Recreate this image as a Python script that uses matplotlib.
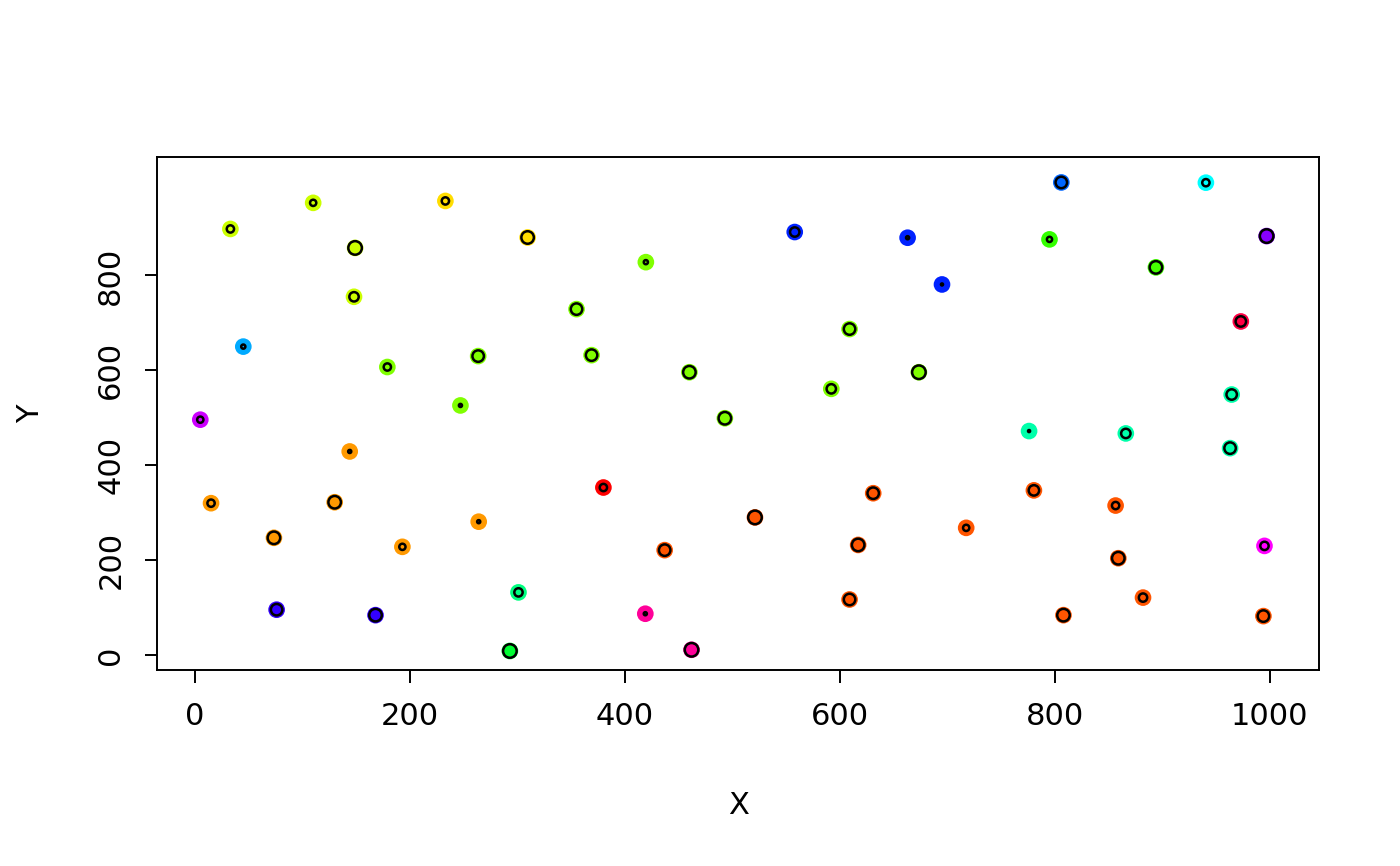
import matplotlib
matplotlib.use("Agg")
import matplotlib.pyplot as plt

# point data
x = [5, 15, 33, 45, 73.5, 76, 110, 130, 144, 148, 149, 168, 179, 193, 233,
     247, 263.5, 264, 293, 301, 309.5, 355, 369, 380, 419, 419.5, 437, 460,
     462, 493, 521, 558, 592, 609, 609, 617, 631, 663, 673.5, 695, 717.5,
     776, 780.5, 795, 806, 808, 856.5, 859, 866, 882, 894, 940.5, 963, 964.5,
     973, 995, 994, 997]
y = [496, 320, 898, 650, 247, 95.5, 953, 322, 429, 755, 858, 84, 607, 228,
     957, 526, 630, 281, 8.5, 132, 880, 729, 632, 353, 87, 828, 221, 596, 11,
     499, 290, 891.5, 561, 117, 687, 232, 341, 879.5, 596, 781, 268, 472, 347,
     876, 996, 84, 315, 204, 467, 121, 817, 995.5, 436, 549, 703, 230, 82, 883]
colors = ['#CC00FF', '#FF9900', '#CCFF00', '#00AAFF', '#FF9900', '#3300FF',
          '#CCFF00', '#FF9900', '#FF9900', '#CCFF00', '#CCFF00', '#3300FF',
          '#80FF00', '#FF9900', '#FFDD00', '#80FF00', '#80FF00', '#FF9900',
          '#00FF33', '#00FF80', '#FFDD00', '#80FF00', '#80FF00', '#FF0000',
          '#FF0099', '#80FF00', '#FF5500', '#80FF00', '#FF0099', '#80FF00',
          '#FF5500', '#0022FF', '#80FF00', '#FF5500', '#80FF00', '#FF5500',
          '#FF5500', '#0022FF', '#80FF00', '#0022FF', '#FF5500', '#00FFAA',
          '#FF5500', '#33FF00', '#0066FF', '#FF5500', '#FF5500', '#FF5500',
          '#00FFAA', '#FF5500', '#44FF00', '#00FFFF', '#00FFAA', '#00FFAA',
          '#FF0044', '#FF00FF', '#FF5500', '#8800FF']
# size of the inner black ring (third variable)
ring = [6, 7, 7, 4, 12, 11, 6, 12, 3, 9, 13, 12, 7, 6, 7, 3, 11, 3, 13, 8,
        12, 11, 11, 7, 3, 4, 11, 12, 13, 12, 13, 9, 9, 11, 11, 12, 11, 3, 13,
        2, 6, 2, 10, 5, 11, 12, 7, 12, 9, 8, 12, 7, 11, 10, 10, 8, 11, 13]

plt.rcParams['font.family'] = ['DejaVu Sans']

fig = plt.figure(figsize=(14, 8.66), dpi=100)
ax = fig.add_axes([157.3 / 1400, 1 - 670 / 866, (1319.3 - 157.3) / 1400, (670 - 157.3) / 866])

ax.scatter(x, y, s=12 ** 2, c=colors, edgecolors='none', zorder=2)
ax.scatter(x, y, s=[(r * 0.75) ** 2 for r in ring], facecolors='none',
           edgecolors='black', linewidths=1.8, zorder=3)

ax.set_xlim(-35, 1046)
ax.set_ylim(-31.6, 1049)
ax.set_xticks([0, 200, 400, 600, 800, 1000])
ax.set_yticks([0, 200, 400, 600, 800])
ax.tick_params(length=9, width=1.4, labelsize=22, pad=14)
for lab in ax.get_yticklabels():
    lab.set_rotation(90)
    lab.set_va('center')
for sp in ax.spines.values():
    sp.set_linewidth(1.4)

ax.set_xlabel('X', fontsize=22, labelpad=43)
ax.set_ylabel('Y', fontsize=22, labelpad=37)

fig.savefig('out.png', dpi=100)
